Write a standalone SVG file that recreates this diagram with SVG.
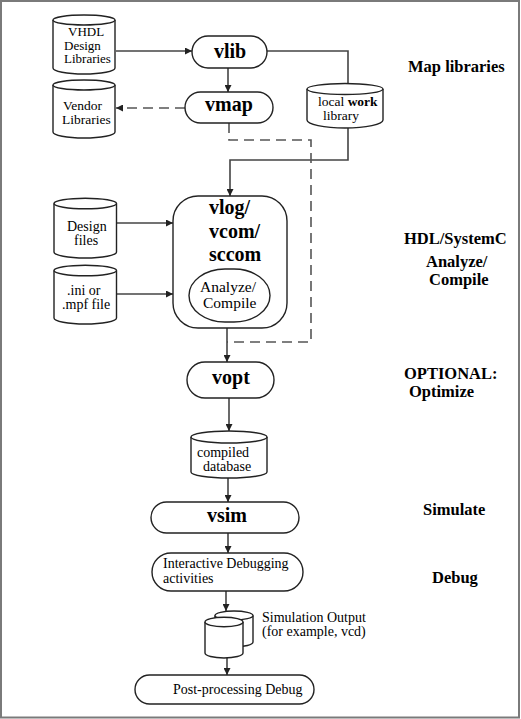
<svg xmlns="http://www.w3.org/2000/svg" width="521" height="719" viewBox="0 0 521 719">
<style>
text{font-family:"Liberation Serif","DejaVu Serif",serif;fill:#000}
.n{font-size:14px}
.s{font-size:13.5px}
.t{font-size:13px}
.b{font-size:20px;font-weight:bold}
.lab{font-size:16.5px;font-weight:bold}
.shape{fill:#fff;stroke:#222;stroke-width:1.4}
.c{fill:none;stroke:#444;stroke-width:1.6}
.d{fill:none;stroke:#555;stroke-width:1.6;stroke-dasharray:10 6}
</style>
<defs>
<marker id="ah" viewBox="0 0 10 10" refX="10" refY="5" markerWidth="7" markerHeight="7" markerUnits="userSpaceOnUse" orient="auto">
<path d="M0,0 L10,5 L0,10 z" fill="#222"/>
</marker>
</defs>
<rect x="1" y="1" width="518" height="716.5" fill="#fff" stroke="#7a7a7a" stroke-width="2"/>

<g id="connectors">
<path class="c" d="M116,51 H192" marker-end="url(#ah)"/>
<path class="c" d="M267,51 H348 V83.5"/>
<path class="c" d="M228,68 V92" marker-end="url(#ah)"/>
<path class="d" d="M185,108 H116" marker-end="url(#ah)"/>
<path class="c" d="M348,128 V160 H230 V196" marker-end="url(#ah)"/>
<path class="d" d="M229,123 V140 H311 V342 H227"/>
<path class="c" d="M117,223 H173" marker-end="url(#ah)"/>
<path class="c" d="M117,294 H173" marker-end="url(#ah)"/>
<path class="c" d="M227,328 V362" marker-end="url(#ah)"/>
<path class="c" d="M229,398 V431" marker-end="url(#ah)"/>
<path class="c" d="M228,478 V502" marker-end="url(#ah)"/>
<path class="c" d="M228,533 V553" marker-end="url(#ah)"/>
<path class="c" d="M226,591 V611" marker-end="url(#ah)"/>
<path class="c" d="M227,658 V675" marker-end="url(#ah)"/>
</g>

<g id="vhdl">
<path class="shape" d="M53,20 V68 A31,6 0 0 0 115,68 V20"/>
<ellipse class="shape" cx="84" cy="20" rx="31" ry="5"/>
<text class="t" x="68" y="35.5">VHDL</text>
<text class="t" x="64" y="49.5">Design</text>
<text class="t" x="64" y="63">Libraries</text>
</g>

<g id="vendor">
<path class="shape" d="M53,85 V132 A31,6 0 0 0 115,132 V85"/>
<ellipse class="shape" cx="84" cy="85" rx="31" ry="5"/>
<text class="s" x="63" y="110">Vendor</text>
<text class="s" x="62" y="123.5">Libraries</text>
</g>

<g id="vlib">
<rect class="shape" x="192" y="36" width="75" height="32" rx="16"/>
<text class="b" x="230" y="57.5" text-anchor="middle">vlib</text>
</g>

<g id="vmap">
<rect class="shape" x="185" y="92" width="88" height="31" rx="15.5"/>
<text class="b" x="229" y="111" text-anchor="middle">vmap</text>
</g>

<g id="localwork">
<path class="shape" d="M307,89 V120 A38,8 0 0 0 383,120 V89"/>
<ellipse class="shape" cx="345" cy="89" rx="38" ry="5.5"/>
<text class="s" x="318" y="106">local <tspan font-weight="bold">work</tspan></text>
<text class="s" x="323" y="120">library</text>
</g>

<g id="designfiles">
<path class="shape" d="M54,203.5 V252 A31.25,6 0 0 0 116.5,252 V203.5"/>
<ellipse class="shape" cx="85.25" cy="203.5" rx="31.25" ry="5.3"/>
<text class="n" x="67" y="230.5">Design</text>
<text class="n" x="74" y="244.5">files</text>
</g>

<g id="inifile">
<path class="shape" d="M54,270.5 V318 A31.25,6 0 0 0 116.5,318 V270.5"/>
<ellipse class="shape" cx="85.25" cy="270.5" rx="31.25" ry="5.3"/>
<text class="n" x="67" y="295">.ini or</text>
<text class="n" x="62" y="309">.mpf file</text>
</g>

<g id="vlog">
<rect class="shape" x="173" y="196" width="114" height="132" rx="25"/>
<text class="b" x="209" y="214">vlog/</text>
<text class="b" x="209" y="238">vcom/</text>
<text class="b" x="209" y="261">sccom</text>
</g>

<g id="analyze">
<rect class="shape" x="189" y="269" width="81" height="53" rx="36" ry="26.5"/>
<text x="200" y="292" font-size="15.5px">Analyze/</text>
<text x="203" y="308" font-size="15.5px">Compile</text>
</g>

<g id="vopt">
<rect class="shape" x="187" y="362" width="87" height="36" rx="18"/>
<text class="b" x="231" y="384" text-anchor="middle">vopt</text>
</g>

<g id="compiled">
<path class="shape" d="M191,437 V472 A38,6 0 0 0 267,472 V437"/>
<ellipse class="shape" cx="229" cy="437" rx="38" ry="6"/>
<text class="n" x="197" y="457">compiled</text>
<text class="n" x="203" y="471">database</text>
</g>

<g id="vsim">
<rect class="shape" x="151" y="502" width="148" height="31" rx="15.5"/>
<text class="b" x="227" y="522" text-anchor="middle">vsim</text>
</g>

<g id="interactive">
<rect class="shape" x="152" y="553" width="151" height="38" rx="19"/>
<text class="n" x="163" y="568">Interactive Debugging</text>
<text class="n" x="163" y="583">activities</text>
</g>

<g id="simoutput">
<path class="shape" d="M215,615.5 V642 A19,5 0 0 0 253,642 V615.5"/>
<ellipse class="shape" cx="234" cy="615.5" rx="19" ry="4.5"/>
<path class="shape" d="M205,622 V653 A19,5 0 0 0 243,653 V622"/>
<ellipse class="shape" cx="224" cy="622" rx="19" ry="4.7"/>
<text class="n" x="262" y="622">Simulation Output</text>
<text class="n" x="262" y="636">(for example, vcd)</text>
</g>

<g id="postprocessing">
<rect class="shape" x="135" y="675" width="179" height="29" rx="14.5"/>
<text class="n" x="173" y="694">Post-processing Debug</text>
</g>

<g id="labels">
<text class="lab" x="408" y="72">Map libraries</text>
<text class="lab" x="404" y="244">HDL/SystemC</text>
<text class="lab" x="426" y="267">Analyze/</text>
<text class="lab" x="429" y="285">Compile</text>
<text class="lab" x="404" y="379">OPTIONAL:</text>
<text class="lab" x="409" y="397">Optimize</text>
<text class="lab" x="423" y="515">Simulate</text>
<text class="lab" x="432" y="583">Debug</text>
</g>
</svg>
